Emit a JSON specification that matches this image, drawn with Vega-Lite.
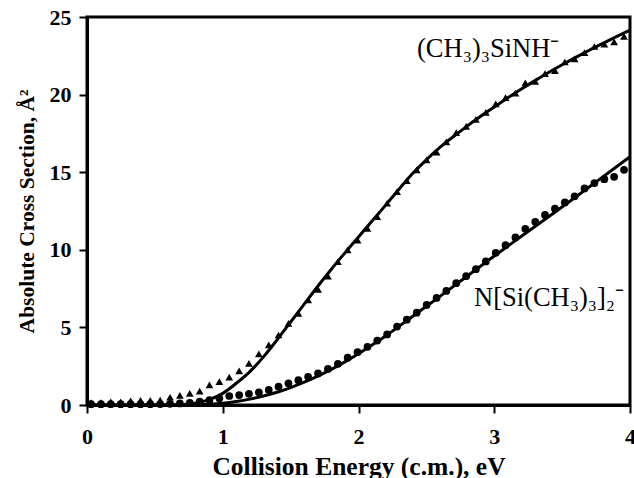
{
  "$schema": "https://vega.github.io/schema/vega-lite/v6.json",
  "width": 543,
  "height": 388,
  "autosize": "none",
  "padding": {"left": 87, "top": 17, "right": 4, "bottom": 73},
  "config": {
    "view": {"stroke": "black", "strokeWidth": 3},
    "axis": {
      "domainColor": "black", "domainWidth": 3, "tickColor": "black", "tickWidth": 2, "tickSize": 8,
      "grid": false, "labelFont": "Liberation Serif", "labelFontWeight": "bold", "labelFontSize": 22,
      "labelColor": "black", "titleFont": "Liberation Serif", "titleFontWeight": "bold",
      "titleFontSize": 21.5, "titleColor": "black"
    }
  },
  "datasets": {
    "tri": [
      {"e":0.030,"s":0.15},{"e":0.103,"s":0.15},{"e":0.175,"s":0.2},{"e":0.248,"s":0.2},{"e":0.321,"s":0.27},
      {"e":0.394,"s":0.3},{"e":0.466,"s":0.3},{"e":0.539,"s":0.32},{"e":0.612,"s":0.5},{"e":0.684,"s":0.62},
      {"e":0.757,"s":0.75},{"e":0.830,"s":0.9},{"e":0.902,"s":1.3},{"e":0.975,"s":1.5},{"e":1.048,"s":1.8},
      {"e":1.121,"s":2.2},{"e":1.193,"s":2.68},{"e":1.266,"s":3.29},{"e":1.339,"s":3.87},{"e":1.411,"s":4.51},
      {"e":1.484,"s":5.26},{"e":1.557,"s":5.9},{"e":1.629,"s":6.77},{"e":1.702,"s":7.45},{"e":1.775,"s":8.31},
      {"e":1.848,"s":9.23},{"e":1.920,"s":9.99},{"e":1.993,"s":10.63},{"e":2.066,"s":11.38},{"e":2.138,"s":12.13},
      {"e":2.211,"s":13.0},{"e":2.284,"s":13.75},{"e":2.356,"s":14.45},{"e":2.429,"s":15.15},{"e":2.502,"s":15.8},
      {"e":2.575,"s":16.3},{"e":2.647,"s":16.95},{"e":2.720,"s":17.55},{"e":2.793,"s":17.95},{"e":2.865,"s":18.4},
      {"e":2.938,"s":18.85},{"e":3.011,"s":19.4},{"e":3.083,"s":19.8},{"e":3.156,"s":20.1},{"e":3.229,"s":20.75},
      {"e":3.302,"s":20.85},{"e":3.374,"s":21.35},{"e":3.447,"s":21.55},{"e":3.520,"s":22.1},{"e":3.592,"s":22.3},
      {"e":3.665,"s":22.7},{"e":3.738,"s":23.1},{"e":3.811,"s":23.25},{"e":3.883,"s":23.4},{"e":3.956,"s":23.75}
    ],
    "cir": [
      {"e":0.030,"s":0.05},{"e":0.103,"s":0.05},{"e":0.175,"s":0.05},{"e":0.248,"s":0.05},{"e":0.321,"s":0.05},
      {"e":0.394,"s":0.05},{"e":0.466,"s":0.05},{"e":0.539,"s":0.06},{"e":0.612,"s":0.08},{"e":0.684,"s":0.1},
      {"e":0.757,"s":0.14},{"e":0.830,"s":0.21},{"e":0.902,"s":0.32},{"e":0.975,"s":0.43},{"e":1.048,"s":0.58},
      {"e":1.121,"s":0.64},{"e":1.193,"s":0.72},{"e":1.266,"s":0.82},{"e":1.339,"s":0.97},{"e":1.411,"s":1.18},
      {"e":1.484,"s":1.4},{"e":1.557,"s":1.6},{"e":1.629,"s":1.82},{"e":1.702,"s":2.03},{"e":1.775,"s":2.32},
      {"e":1.848,"s":2.65},{"e":1.920,"s":3.05},{"e":1.993,"s":3.4},{"e":2.066,"s":3.75},{"e":2.138,"s":4.15},
      {"e":2.211,"s":4.55},{"e":2.284,"s":5.05},{"e":2.356,"s":5.5},{"e":2.429,"s":5.95},{"e":2.502,"s":6.45},
      {"e":2.575,"s":6.9},{"e":2.647,"s":7.35},{"e":2.720,"s":7.85},{"e":2.793,"s":8.3},{"e":2.865,"s":8.75},
      {"e":2.938,"s":9.25},{"e":3.011,"s":9.8},{"e":3.083,"s":10.3},{"e":3.156,"s":10.8},{"e":3.229,"s":11.35},
      {"e":3.302,"s":11.8},{"e":3.374,"s":12.25},{"e":3.447,"s":12.65},{"e":3.520,"s":13.05},{"e":3.592,"s":13.45},
      {"e":3.665,"s":13.95},{"e":3.738,"s":14.3},{"e":3.811,"s":14.55},{"e":3.883,"s":14.7},{"e":3.956,"s":15.15}
    ],
    "trifit": [
      {"e":0,"s":0},{"e":0.6,"s":0},{"e":0.7,"s":0.03},{"e":0.8,"s":0.12},{"e":0.9,"s":0.35},{"e":1.0,"s":0.75},
      {"e":1.1,"s":1.4},{"e":1.2,"s":2.15},{"e":1.3,"s":3.1},{"e":1.4,"s":4.2},{"e":1.5,"s":5.35},{"e":1.6,"s":6.5},
      {"e":1.7,"s":7.65},{"e":1.8,"s":8.75},{"e":1.9,"s":9.8},{"e":2.0,"s":10.83},{"e":2.1,"s":11.86},{"e":2.2,"s":12.88},
      {"e":2.3,"s":13.92},{"e":2.4,"s":14.93},{"e":2.5,"s":15.8},{"e":2.6,"s":16.6},{"e":2.7,"s":17.3},{"e":2.8,"s":17.97},
      {"e":2.9,"s":18.6},{"e":3.0,"s":19.2},{"e":3.1,"s":19.79},{"e":3.2,"s":20.36},{"e":3.3,"s":20.9},{"e":3.4,"s":21.42},
      {"e":3.5,"s":21.92},{"e":3.6,"s":22.4},{"e":3.7,"s":22.86},{"e":3.8,"s":23.3},{"e":3.9,"s":23.73},{"e":4.0,"s":24.15}
    ],
    "cirfit": [
      {"e":0,"s":0},{"e":0.6,"s":0},{"e":0.8,"s":0.01},{"e":0.9,"s":0.05},{"e":1.0,"s":0.12},{"e":1.1,"s":0.23},
      {"e":1.2,"s":0.38},{"e":1.3,"s":0.58},{"e":1.4,"s":0.82},{"e":1.5,"s":1.12},{"e":1.6,"s":1.47},{"e":1.7,"s":1.86},
      {"e":1.8,"s":2.3},{"e":1.9,"s":2.78},{"e":2.0,"s":3.3},{"e":2.1,"s":3.86},{"e":2.2,"s":4.45},{"e":2.3,"s":5.08},
      {"e":2.4,"s":5.72},{"e":2.5,"s":6.36},{"e":2.6,"s":7.0},{"e":2.7,"s":7.65},{"e":2.8,"s":8.3},{"e":2.9,"s":8.95},
      {"e":3.0,"s":9.6},{"e":3.2,"s":10.87},{"e":3.4,"s":12.13},{"e":3.6,"s":13.4},{"e":3.8,"s":14.7},{"e":4.0,"s":16.0}
    ],
    "labels": [
      {"e":2.431,"s":22.42,"t":"(CH₃)₃SiNH⁻"},
      {"e":2.851,"s":6.4,"t":"N[Si(CH₃)₃]₂⁻"}
    ]
  },
  "encoding": {
    "x": {"field": "e", "type": "quantitative", "scale": {"domain": [0, 4], "nice": false},
      "axis": {"values": [0,1,2,3,4], "title": "Collision Energy (c.m.), eV", "titleFontSize": 25.5, "labelPadding": 13, "titlePadding": 7, "labelFlush": false}},
    "y": {"field": "s", "type": "quantitative", "scale": {"domain": [0, 25], "nice": false},
      "axis": {"values": [0,5,10,15,20,25], "title": "Absolute Cross Section, Å²", "labelPadding": 8, "titlePadding": 11, "labelFlush": false}}
  },
  "layer": [
    {"data": {"name": "tri"}, "mark": {"type": "point", "shape": "triangle-up", "filled": true, "color": "black", "size": 60, "opacity": 1}},
    {"data": {"name": "cir"}, "mark": {"type": "circle", "color": "black", "size": 60, "opacity": 1}},
    {"data": {"name": "trifit"}, "mark": {"type": "line", "color": "black", "strokeWidth": 3, "interpolate": "monotone"}},
    {"data": {"name": "cirfit"}, "mark": {"type": "line", "color": "black", "strokeWidth": 3, "interpolate": "monotone"}},
    {"data": {"name": "labels"}, "mark": {"type": "text", "align": "left", "baseline": "alphabetic", "font": "Liberation Serif", "fontSize": 26.5, "color": "black"},
      "encoding": {"text": {"field": "t"}}}
  ]
}
